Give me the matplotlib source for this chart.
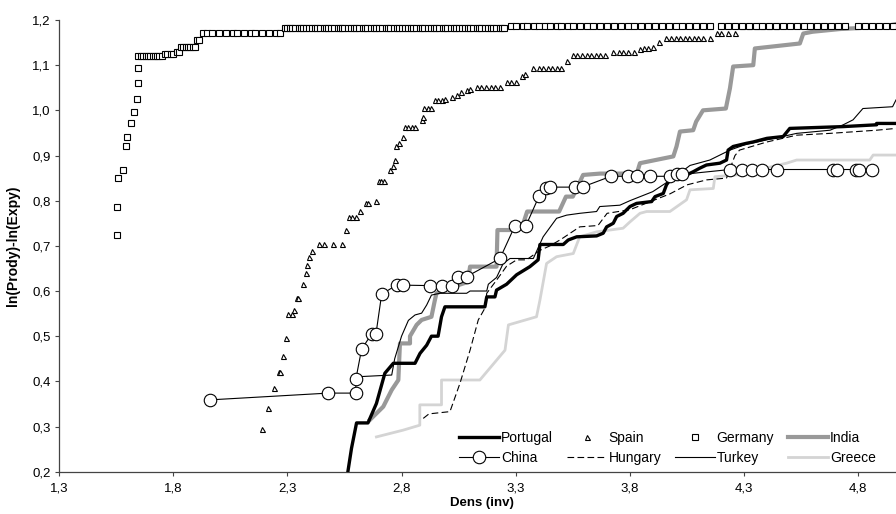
import numpy as np
import matplotlib
matplotlib.use("Agg")
import matplotlib.pyplot as plt
from matplotlib.ticker import FuncFormatter

plt.rcParams['font.family'] = ['Liberation Sans', 'DejaVu Sans']

# data
portugal_x = [2.562, 2.581, 2.603, 2.653, 2.69, 2.727, 2.764, 2.859, 2.881, 2.91, 2.931, 2.96, 2.975, 2.99,
              3.165, 3.173, 3.209, 3.216, 3.26, 3.304, 3.362, 3.398, 3.406, 3.508, 3.53, 3.567, 3.654, 3.683,
              3.698, 3.727, 3.742, 3.77, 3.80, 3.829, 3.895, 3.91, 3.946, 3.96, 3.975, 4.019, 4.048, 4.077,
              4.106, 4.135, 4.194, 4.223, 4.23, 4.252, 4.31, 4.34, 4.40, 4.471, 4.50, 4.734, 4.88, 4.88, 4.965]
portugal_y = [0.19, 0.252, 0.308, 0.308, 0.351, 0.418, 0.44, 0.44, 0.462, 0.48, 0.50, 0.50, 0.543, 0.565,
              0.565, 0.587, 0.587, 0.602, 0.615, 0.636, 0.654, 0.669, 0.703, 0.703, 0.713, 0.72, 0.722, 0.728,
              0.742, 0.75, 0.765, 0.772, 0.787, 0.794, 0.798, 0.809, 0.816, 0.835, 0.846, 0.853, 0.857, 0.864,
              0.872, 0.879, 0.883, 0.89, 0.912, 0.92, 0.927, 0.93, 0.938, 0.942, 0.96, 0.964, 0.968, 0.971, 0.971]

china_x = [1.961, 2.479, 2.60, 2.60, 2.625, 2.669, 2.688, 2.713, 2.778, 2.807, 2.924, 2.975, 3.019, 3.048,
           3.085, 3.231, 3.297, 3.345, 3.403, 3.432, 3.45, 3.559, 3.596, 3.717, 3.793, 3.829, 3.888, 3.975,
           4.004, 4.026, 4.238, 4.289, 4.333, 4.38, 4.442, 4.69, 4.708, 4.792, 4.804, 4.861]
china_y = [0.359, 0.374, 0.374, 0.405, 0.471, 0.505, 0.505, 0.593, 0.613, 0.613, 0.612, 0.612, 0.612, 0.63,
           0.632, 0.672, 0.745, 0.745, 0.811, 0.827, 0.83, 0.83, 0.831, 0.854, 0.854, 0.854, 0.854, 0.854,
           0.858, 0.858, 0.869, 0.869, 0.869, 0.869, 0.869, 0.869, 0.869, 0.869, 0.869, 0.869]

spain_x = [2.189, 2.214, 2.241, 2.265, 2.27, 2.279, 2.294, 2.304, 2.319, 2.329, 2.341, 2.348, 2.37, 2.381,
           2.387, 2.395, 2.406, 2.44, 2.46, 2.50, 2.54, 2.555, 2.57, 2.585, 2.60, 2.618, 2.644, 2.655, 2.69,
           2.70, 2.71, 2.725, 2.75, 2.763, 2.771, 2.776, 2.789, 2.806, 2.815, 2.83, 2.845, 2.86, 2.888, 2.895,
           2.90, 2.915, 2.93, 2.946, 2.96, 2.975, 2.99, 3.02, 3.041, 3.06, 3.085, 3.10, 3.129, 3.15, 3.17,
           3.19, 3.21, 3.23, 3.26, 3.28, 3.30, 3.326, 3.34, 3.377, 3.40, 3.42, 3.44, 3.46, 3.48, 3.50, 3.523,
           3.552, 3.57, 3.59, 3.61, 3.63, 3.65, 3.67, 3.69, 3.727, 3.75, 3.77, 3.79, 3.82, 3.844, 3.86, 3.88,
           3.90, 3.928, 3.96, 3.98, 4.00, 4.02, 4.04, 4.06, 4.08, 4.10, 4.12, 4.15, 4.18, 4.20, 4.23, 4.26,
           4.29, 4.32, 4.35, 4.38, 4.41, 4.44]
spain_y = [0.295, 0.34, 0.386, 0.42, 0.42, 0.457, 0.497, 0.55, 0.55, 0.558, 0.585, 0.585, 0.615, 0.639,
           0.658, 0.675, 0.689, 0.704, 0.704, 0.704, 0.704, 0.734, 0.764, 0.764, 0.764, 0.777, 0.795, 0.795, 0.80,
           0.844, 0.844, 0.844, 0.868, 0.877, 0.89, 0.92, 0.928, 0.94, 0.964, 0.964, 0.964, 0.964, 0.979, 0.985,
           1.005, 1.005, 1.005, 1.023, 1.023, 1.023, 1.025, 1.03, 1.035, 1.04, 1.045, 1.048, 1.052, 1.052, 1.052,
           1.052, 1.052, 1.052, 1.063, 1.063, 1.063, 1.076, 1.08, 1.093, 1.093, 1.093, 1.093, 1.093, 1.093, 1.093, 1.11,
           1.123, 1.123, 1.123, 1.123, 1.123, 1.123, 1.123, 1.123, 1.13, 1.13, 1.13, 1.13, 1.13, 1.135, 1.138, 1.138,
           1.14, 1.151, 1.16, 1.16, 1.16, 1.16, 1.16, 1.16, 1.16, 1.16, 1.16, 1.16, 1.172, 1.172, 1.172, 1.172,
           1.187, 1.187, 1.187, 1.187, 1.187, 1.187]

hungary_x = [2.895, 2.92, 3.012, 3.056, 3.10, 3.136, 3.165, 3.173, 3.216, 3.26, 3.304, 3.347, 3.406, 3.45,
             3.50, 3.58, 3.66, 3.70, 3.80, 3.85, 3.90, 3.975, 4.05, 4.135, 4.223, 4.26, 4.28, 4.40, 4.53,
             4.676, 4.88, 4.965]
hungary_y = [0.318, 0.328, 0.333, 0.396, 0.469, 0.536, 0.562, 0.595, 0.624, 0.655, 0.669, 0.669, 0.69, 0.70,
             0.715, 0.742, 0.745, 0.772, 0.78, 0.79, 0.80, 0.815, 0.835, 0.846, 0.85, 0.90, 0.912, 0.93, 0.945,
             0.949, 0.956, 0.96]

germany_x = [1.553, 1.553, 1.56, 1.582, 1.593, 1.599, 1.615, 1.63, 1.64, 1.645, 1.647, 1.647,
             1.66, 1.67, 1.68, 1.69, 1.70, 1.71, 1.72, 1.73, 1.74, 1.75,
             1.765, 1.775, 1.79, 1.80, 1.815, 1.825,
             1.835, 1.845, 1.855, 1.865, 1.875, 1.885, 1.895, 1.905, 1.915,
             1.93, 1.95, 1.97, 2.00, 2.03, 2.06, 2.08, 2.11, 2.14, 2.16, 2.19, 2.22, 2.25, 2.27,
             2.29, 2.30, 2.31, 2.32, 2.335, 2.35, 2.36, 2.37, 2.38, 2.395, 2.41, 2.42, 2.43, 2.445, 2.46, 2.47,
             2.48, 2.49, 2.505, 2.52, 2.53, 2.54, 2.55, 2.565, 2.58, 2.59, 2.60, 2.615, 2.63, 2.64, 2.65, 2.665,
             2.68, 2.69, 2.70, 2.715, 2.73, 2.74, 2.75, 2.765, 2.78, 2.79, 2.80, 2.815, 2.83, 2.84, 2.85, 2.865,
             2.88, 2.89, 2.90, 2.915, 2.93, 2.94, 2.95, 2.965, 2.98, 2.99, 3.00, 3.015, 3.03, 3.04, 3.05, 3.065,
             3.08, 3.09, 3.10, 3.115, 3.13, 3.14, 3.15, 3.165, 3.18, 3.19, 3.20, 3.215, 3.23, 3.24, 3.25,
             3.28, 3.30, 3.33, 3.35, 3.38, 3.40, 3.43, 3.45, 3.48, 3.50, 3.53, 3.55, 3.58, 3.61, 3.64, 3.67,
             3.70, 3.73, 3.76, 3.79, 3.82, 3.85, 3.88, 3.91, 3.94, 3.97, 4.00, 4.03, 4.06, 4.09, 4.12, 4.15,
             4.20, 4.23, 4.26, 4.29, 4.32, 4.35, 4.38, 4.41, 4.44, 4.47, 4.50, 4.53, 4.56, 4.59, 4.62, 4.65,
             4.68, 4.71, 4.74, 4.80, 4.83, 4.86, 4.89, 4.92, 4.95]
germany_y = [0.724, 0.787, 0.851, 0.869, 0.922, 0.942, 0.971, 0.997, 1.025, 1.06, 1.094, 1.12,
             1.12, 1.12, 1.12, 1.12, 1.12, 1.12, 1.12, 1.12, 1.12, 1.12,
             1.125, 1.125, 1.125, 1.125, 1.13, 1.13,
             1.141, 1.141, 1.141, 1.141, 1.141, 1.141, 1.141, 1.156, 1.156,
             1.172, 1.172, 1.172, 1.172, 1.172, 1.172, 1.172, 1.172, 1.172, 1.172, 1.172, 1.172, 1.172, 1.172,
             1.182, 1.182, 1.182, 1.182, 1.182, 1.182, 1.182, 1.182, 1.182, 1.182, 1.182, 1.182, 1.182, 1.182, 1.182, 1.182,
             1.182, 1.182, 1.182, 1.182, 1.182, 1.182, 1.182, 1.182, 1.182, 1.182, 1.182, 1.182, 1.182, 1.182, 1.182, 1.182,
             1.182, 1.182, 1.182, 1.182, 1.182, 1.182, 1.182, 1.182, 1.182, 1.182, 1.182, 1.182, 1.182, 1.182, 1.182, 1.182,
             1.182, 1.182, 1.182, 1.182, 1.182, 1.182, 1.182, 1.182, 1.182, 1.182, 1.182, 1.182, 1.182, 1.182, 1.182, 1.182,
             1.182, 1.182, 1.182, 1.182, 1.182, 1.182, 1.182, 1.182, 1.182, 1.182, 1.182, 1.182, 1.182, 1.182, 1.182,
             1.187, 1.187, 1.187, 1.187, 1.187, 1.187, 1.187, 1.187, 1.187, 1.187, 1.187, 1.187, 1.187, 1.187, 1.187, 1.187,
             1.187, 1.187, 1.187, 1.187, 1.187, 1.187, 1.187, 1.187, 1.187, 1.187, 1.187, 1.187, 1.187, 1.187, 1.187, 1.187,
             1.187, 1.187, 1.187, 1.187, 1.187, 1.187, 1.187, 1.187, 1.187, 1.187, 1.187, 1.187, 1.187, 1.187, 1.187, 1.187,
             1.187, 1.187, 1.187, 1.187, 1.187, 1.187, 1.187, 1.187, 1.187]

turkey_x = [2.60, 2.757, 2.77, 2.80, 2.83, 2.859, 2.888, 2.91, 2.931, 2.968, 3.085, 3.10, 3.173, 3.18, 3.216,
            3.245, 3.275, 3.377, 3.42, 3.479, 3.523, 3.58, 3.654, 3.668, 3.756, 3.80, 3.90, 3.99, 4.063, 4.15,
            4.238, 4.31, 4.45, 4.53, 4.676, 4.734, 4.777, 4.82, 4.95, 4.965]
turkey_y = [0.41, 0.414, 0.45, 0.50, 0.535, 0.547, 0.551, 0.569, 0.591, 0.595, 0.595, 0.60, 0.60, 0.615, 0.63,
            0.661, 0.672, 0.672, 0.72, 0.761, 0.768, 0.772, 0.776, 0.787, 0.79, 0.80, 0.82, 0.85, 0.878, 0.89,
            0.912, 0.925, 0.94, 0.949, 0.956, 0.968, 0.979, 1.004, 1.008, 1.023]

india_x = [2.662, 2.72, 2.757, 2.786, 2.793, 2.837, 2.837, 2.866, 2.888, 2.931, 2.946, 2.953, 3.00, 3.09,
           3.10, 3.216, 3.22, 3.275, 3.33, 3.35, 3.49, 3.52, 3.55, 3.595, 3.67, 3.83, 3.844, 3.99, 4.004,
           4.019, 4.077, 4.09, 4.12, 4.22, 4.238, 4.252, 4.34, 4.347, 4.544, 4.559, 4.60, 4.72, 4.909, 4.965]
india_y = [0.315, 0.344, 0.381, 0.403, 0.484, 0.484, 0.50, 0.525, 0.536, 0.543, 0.58, 0.595, 0.605, 0.62,
           0.654, 0.654, 0.735, 0.735, 0.745, 0.776, 0.776, 0.809, 0.809, 0.857, 0.86, 0.86, 0.883, 0.898, 0.92,
           0.953, 0.956, 0.975, 1.0, 1.004, 1.049, 1.097, 1.10, 1.137, 1.148, 1.17, 1.174, 1.18, 1.185, 1.191]

greece_x = [2.69, 2.807, 2.88, 2.88, 2.975, 2.975, 3.143, 3.253, 3.268, 3.391, 3.406, 3.435, 3.479, 3.552,
            3.58, 3.654, 3.77, 3.80, 3.844, 3.873, 3.975, 4.048, 4.063, 4.165, 4.172, 4.267, 4.486, 4.53,
            4.85, 4.865, 4.965]
greece_y = [0.277, 0.292, 0.303, 0.348, 0.348, 0.403, 0.403, 0.469, 0.525, 0.543, 0.58, 0.661, 0.676, 0.683,
            0.72, 0.731, 0.739, 0.753, 0.772, 0.776, 0.776, 0.802, 0.824, 0.827, 0.853, 0.857, 0.883, 0.89,
            0.89, 0.901, 0.901]

xticks = [1.3, 1.8, 2.3, 2.8, 3.3, 3.8, 4.3, 4.8]
yticks = [0.2, 0.3, 0.4, 0.5, 0.6, 0.7, 0.8, 0.9, 1.0, 1.1, 1.2]

fig = plt.figure(figsize=(8.96, 5.14), dpi=100)
ax = fig.add_axes([0.0658, 0.0823, 0.9342, 0.8788])

ax.plot(portugal_x, portugal_y, color='black', lw=2.4, label='Portugal', zorder=5)
ax.plot(spain_x, spain_y, ls='none', marker='^', ms=3.6, mfc='white', mec='black', mew=0.8,
        label='Spain', zorder=4)
ax.plot(germany_x, germany_y, ls='none', marker='s', ms=5, mfc='white', mec='black', mew=0.8,
        label='Germany', zorder=4)
ax.plot(india_x, india_y, color='#999999', lw=3.0, label='India', zorder=2)
ax.plot(china_x, china_y, color='black', lw=0.8, marker='o', ms=9, mfc='white', mec='black',
        mew=0.8, label='China', zorder=6)
ax.plot(hungary_x, hungary_y, color='black', lw=0.8, ls=(0, (6, 3)), label='Hungary', zorder=4)
ax.plot(turkey_x, turkey_y, color='black', lw=0.8, label='Turkey', zorder=4)
ax.plot(greece_x, greece_y, color='#d4d4d4', lw=2.0, label='Greece', zorder=3)

ax.set_xlim(1.3, 4.965)
ax.set_ylim(0.2, 1.2)
ax.set_xticks(xticks)
ax.set_yticks(yticks)
fmt = FuncFormatter(lambda v, p: ("%.1f" % v).replace('.', ','))
ax.xaxis.set_major_formatter(fmt)
ax.yaxis.set_major_formatter(fmt)
ax.tick_params(direction='out', length=3, width=0.8, color='#444444', labelsize=9.5)
ax.tick_params(axis='x', pad=5)
ax.tick_params(axis='y', pad=3)

for s in ['top', 'right']:
    ax.spines[s].set_visible(False)
for s in ['left', 'bottom']:
    ax.spines[s].set_color('#444444')
    ax.spines[s].set_linewidth(0.9)

ax.set_xlabel('Dens (inv)', fontsize=9.5, fontweight='bold')
ax.set_ylabel('ln(Prody)-ln(Expy)', fontsize=10, fontweight='bold')
ax.xaxis.set_label_coords(0.505, -0.057)
ax.yaxis.set_label_coords(-0.046, 0.5)

h, l = ax.get_legend_handles_labels()
order = ['Portugal', 'China', 'Spain', 'Hungary', 'Germany', 'Turkey', 'India', 'Greece']
hh = [h[l.index(n)] for n in order]
ax.legend(hh, order, ncol=4, loc='lower right', bbox_to_anchor=(0.984, 0.0), frameon=False,
          fontsize=10, handlelength=2.9, handletextpad=0.1, columnspacing=1.0, labelspacing=0.45,
          borderpad=0)

fig.savefig('out.png', dpi=100)
